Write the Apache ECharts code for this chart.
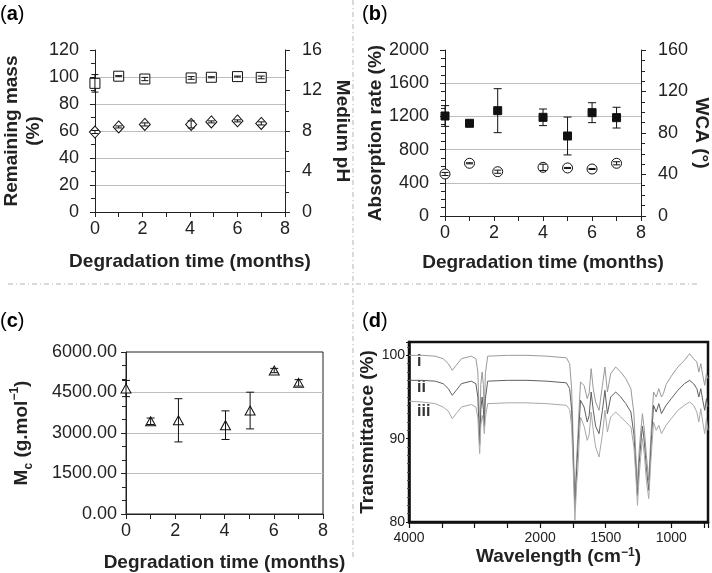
<!DOCTYPE html>
<html><head><meta charset="utf-8">
<script src="https://cdn.jsdelivr.net/npm/echarts@6/dist/echarts.min.js"></script>
<style>html,body{margin:0;padding:0;background:#fff}#c{width:712px;height:573px}</style>
</head><body><div id="c"></div>
<script>
const FONT = 'Liberation Sans, Arial, Helvetica, sans-serif';

// ---- Panel (a): remaining mass (%) and medium pH vs degradation time
const timeA = [0, 1, 2.1, 4.05, 4.9, 6, 7];
const massA = [95.3, 100.6, 98.5, 99.3, 99.8, 100.3, 99.7];
const massErrA = [6.5, 0.4, 1.2, 1.0, 0.4, 0.4, 1.0];
const phA = [7.9, 8.4, 8.65, 8.65, 8.9, 9.0, 8.75];
const phErrA = [0.15, 0.1, 0.15, 0.35, 0.1, 0.1, 0.15];

// ---- Panel (b): absorption rate (%) and WCA (°)
const timeB = [0, 1, 2.15, 4, 5, 6, 7];
const absB = [1205, 1117, 1269, 1189, 964, 1245, 1185];
const absErrB = [125, 30, 265, 100, 228, 120, 125];
const wcaB = [40.5, 50.8, 42.7, 46.9, 46.3, 45.3, 50.8];
const wcaErrB = [1.5, 0.5, 1.5, 3, 0.5, 0.5, 1.5];

// ---- Panel (c): Mc (g/mol)
const timeC = [0, 1, 2.13, 4.04, 5.04, 6.02, 7.01];
const mcC = [4647, 3434, 3470, 3290, 3832, 5313, 4857];
const mcErrC = [300, 120, 800, 530, 680, 80, 120];

// ---- Panel (d): FTIR spectra [wavenumber, transmittance]
const specI = [[4000,100.0],[3800,100.0],[3600,99.9],[3480,99.6],[3400,99.0],[3340,98.2],[3280,98.8],[3200,99.6],[3050,99.9],[2980,99.6],[2950,98.0],[2935,94.5],[2922,90.5],[2905,96.5],[2885,98.0],[2866,96.5],[2852,93.0],[2835,97.8],[2800,99.9],[2500,100.0],[2200,100.0],[1950,99.9],[1800,99.7],[1775,99.0],[1760,96.0],[1748,90.0],[1735,82.8],[1722,87.5],[1712,90.5],[1700,94.5],[1692,96.8],[1665,96.4],[1641,94.8],[1626,95.5],[1611,98.4],[1595,96.0],[1577,94.4],[1551,93.4],[1525,96.4],[1506,98.6],[1487,95.6],[1462,97.8],[1424,98.6],[1385,98.0],[1347,97.2],[1308,96.0],[1285,93.0],[1270,88.0],[1258,84.5],[1245,88.5],[1232,91.0],[1220,93.0],[1205,91.0],[1190,88.0],[1172,85.0],[1155,90.5],[1135,95.6],[1115,95.0],[1095,96.0],[1075,95.0],[1060,95.4],[1040,96.5],[1000,97.5],[950,98.6],[900,99.4],[860,100.2],[830,99.6],[805,99.2],[790,98.0],[775,99.0],[760,97.6],[745,96.4],[732,97.8],[720,97.2]];
const specII = [[4000,97.0],[3800,97.0],[3600,96.9],[3480,96.6],[3400,96.0],[3340,95.2],[3280,95.8],[3200,96.6],[3050,96.9],[2980,96.6],[2950,95.0],[2935,92.0],[2922,89.3],[2905,93.5],[2885,95.0],[2866,93.5],[2852,91.5],[2835,94.8],[2800,96.9],[2500,97.0],[2200,97.0],[1950,96.9],[1800,96.7],[1775,96.0],[1760,93.5],[1748,88.0],[1735,81.5],[1722,86.0],[1712,89.0],[1700,92.5],[1692,94.6],[1665,93.8],[1641,92.0],[1626,92.8],[1611,95.6],[1595,93.4],[1577,91.5],[1551,90.6],[1525,93.4],[1506,95.8],[1487,93.0],[1462,95.0],[1424,95.6],[1385,95.0],[1347,94.2],[1308,93.2],[1285,90.5],[1270,86.5],[1258,83.2],[1245,87.0],[1232,89.5],[1220,91.5],[1205,89.5],[1190,86.5],[1172,83.8],[1155,89.0],[1135,94.0],[1115,93.2],[1095,94.2],[1075,93.0],[1060,93.2],[1040,94.0],[1000,94.8],[950,95.8],[900,96.6],[860,97.0],[830,96.6],[805,96.0],[790,95.0],[775,96.0],[760,94.6],[745,93.4],[732,94.8],[720,93.8]];
const specIII = [[4000,94.5],[3800,94.4],[3600,94.2],[3480,93.8],[3400,93.3],[3340,92.4],[3280,93.0],[3200,93.8],[3050,94.1],[2980,93.8],[2950,92.5],[2935,90.0],[2922,88.2],[2905,91.5],[2885,92.8],[2866,92.0],[2852,90.6],[2835,92.5],[2800,94.2],[2500,94.3],[2200,94.3],[1950,94.2],[1800,94.0],[1775,93.5],[1760,91.5],[1748,86.5],[1735,80.2],[1722,84.5],[1712,86.5],[1700,90.5],[1692,92.6],[1665,91.5],[1641,89.8],[1626,90.5],[1611,93.2],[1595,91.0],[1577,89.0],[1551,87.8],[1525,90.5],[1506,93.4],[1487,90.8],[1462,92.6],[1424,93.2],[1385,92.6],[1347,92.0],[1308,91.4],[1285,89.0],[1270,85.5],[1258,82.0],[1245,85.5],[1232,88.0],[1220,90.0],[1205,88.0],[1190,85.0],[1172,82.8],[1155,87.5],[1135,92.0],[1115,91.0],[1095,91.6],[1075,90.6],[1060,90.8],[1040,91.6],[1000,92.4],[950,93.4],[900,94.0],[860,94.4],[830,94.0],[805,93.2],[790,92.0],[775,93.6],[760,92.0],[745,90.6],[732,92.4],[720,91.0]];
const ftirTickLabels = [4000, 2000, 1500, 1000];
const ftirMinW = 720;
const specNames = ['i', 'ii', 'iii'];

// split wavenumber scale: 4000-2000 at one scale, below 2000 doubled (as in FTIR instruments)
function toPos(w) { return w >= 2000 ? 4000 - w : 2000 + 2 * (2000 - w); }
function toW(p) { return p <= 2000 ? 4000 - p : 2000 - (p - 2000) / 2; }

const labelStyle = {fontFamily: FONT, fontSize: 18, color: '#222'};
const nameStyle = {fontFamily: FONT, fontSize: 19, fontWeight: 'bold', color: '#222'};
const axisLine = {show: true, onZero: false, lineStyle: {color: '#222', width: 1}};

function xTime(grid, gap) {
  return {type: 'value', gridIndex: grid, min: 0, max: 8, interval: 1,
    axisLine: axisLine,
    axisTick: {show: true, length: 5, lineStyle: {color: '#222'}},
    axisLabel: Object.assign({}, labelStyle, {margin: 8, formatter: v => (v % 2 === 0 ? String(v) : '')}),
    splitLine: {show: false},
    name: 'Degradation time (months)', nameLocation: 'middle', nameGap: gap, nameTextStyle: nameStyle};
}
function yAx(grid, pos, min, max, interval, minorSplit, name, gap, rot, opts) {
  const o = {type: 'value', gridIndex: grid, position: pos, min: min, max: max, interval: interval,
    axisLine: axisLine,
    axisTick: {show: true, length: 5, lineStyle: {color: '#222'}},
    minorTick: {show: true, splitNumber: minorSplit, length: 4, lineStyle: {color: '#222'}},
    axisLabel: Object.assign({}, labelStyle, {margin: pos === 'left' ? 16 : 17, formatter: v => String(v)}),
    splitLine: {show: pos === 'left', showMinLine: false, showMaxLine: false, lineStyle: {color: '#bdbdbd', width: 1}},
    name: name, nameLocation: 'middle', nameGap: gap, nameRotate: rot, nameTextStyle: nameStyle};
  return Object.assign(o, opts || {});
}
function errSeries(xi, yi, xs, ys, es, cap) {
  return {type: 'custom', xAxisIndex: xi, yAxisIndex: yi, z: 5, silent: true,
    encode: {x: 0, y: [1, 2]},
    data: xs.map((x, i) => [x, ys[i] - es[i], ys[i] + es[i]]),
    renderItem: function (params, api) {
      const lo = api.coord([api.value(0), api.value(1)]);
      const hi = api.coord([api.value(0), api.value(2)]);
      const h = cap / 2, st = {stroke: '#111', lineWidth: 1};
      return {type: 'group', children: [
        {type: 'line', shape: {x1: lo[0], y1: lo[1], x2: hi[0], y2: hi[1]}, style: st},
        {type: 'line', shape: {x1: lo[0] - h, y1: lo[1], x2: lo[0] + h, y2: lo[1]}, style: st},
        {type: 'line', shape: {x1: hi[0] - h, y1: hi[1], x2: hi[0] + h, y2: hi[1]}, style: st}
      ]};
    }};
}
function scat(xi, yi, xs, ys, symbol, size, fill) {
  return {type: 'scatter', xAxisIndex: xi, yAxisIndex: yi, z: 3, symbol: symbol, symbolSize: size,
    itemStyle: {color: fill, borderColor: '#111', borderWidth: 1, opacity: 1},
    data: xs.map((x, i) => [x, ys[i]])};
}

const chart = echarts.init(document.getElementById('c'), null, {renderer: 'canvas'});
const specColors = ['#9a9a9a', '#606060', '#a8a8a8'];
const specs = [specI, specII, specIII];

const option = {
  animation: false,
  backgroundColor: '#fff',
  textStyle: {fontFamily: FONT},
  grid: [
    {left: 88, top: 50, width: 197, height: 162},
    {left: 445, top: 50, width: 197, height: 166},
    {left: 126, top: 352, width: 197, height: 166, show: true, borderColor: '#222', borderWidth: 1},
    {left: 409, top: 342, width: 299, height: 180, show: true, borderColor: '#111', borderWidth: 2.5}
  ],
  xAxis: [
    xTime(0, 40), xTime(1, 37), xTime(2, 39),
    {type: 'value', gridIndex: 3, min: 0, max: toPos(ftirMinW), interval: 500,
      axisLine: {show: true, onZero: false, lineStyle: {color: '#111', width: 2.5}},
      axisTick: {show: true, length: 6, lineStyle: {color: '#111', width: 1.2}},
      axisLabel: {fontFamily: FONT, fontSize: 14, color: '#222', margin: 9,
        formatter: v => { const w = Math.round(toW(v)); return ftirTickLabels.indexOf(w) >= 0 ? String(w) : ''; }},
      splitLine: {show: false},
      name: '{b|Wavelength (cm}{p|\u22121}{b|)}', nameLocation: 'middle', nameGap: 25,
      nameTextStyle: {rich: {b: {fontFamily: FONT, fontSize: 19, fontWeight: 'bold', color: '#222'},
        p: {fontFamily: FONT, fontSize: 12, fontWeight: 'bold', color: '#222', verticalAlign: 'top'}}}}
  ],
  yAxis: [
    yAx(0, 'left', 0, 120, 20, 2, 'Remaining mass\n(%)', 48, 90, {nameTextStyle: Object.assign({}, nameStyle, {lineHeight: 22})}),
    yAx(0, 'right', 0, 16, 4, 2, 'Medium pH', 48, -90),
    yAx(1, 'left', 0, 2000, 400, 4, 'Absorption rate (%)', 56, 90),
    yAx(1, 'right', 0, 160, 40, 4, 'WCA (\u00b0)', 46, -90),
    yAx(2, 'left', 0, 6000, 1500, 3, '{b|M}{s|c}{b| (g.mol}{p|\u22121}{b|)}', 91, 90, {
      axisLabel: Object.assign({}, labelStyle, {margin: 9, formatter: v => v.toFixed(2)}),
      splitLine: {show: true, showMinLine: false, showMaxLine: false, lineStyle: {color: '#bdbdbd', width: 1}},
      nameTextStyle: {rich: {
        b: {fontFamily: FONT, fontSize: 19, fontWeight: 'bold', color: '#222', lineHeight: 26, verticalAlign: 'middle'},
        s: {fontFamily: FONT, fontSize: 12, fontWeight: 'bold', color: '#222', lineHeight: 12, verticalAlign: 'bottom'},
        p: {fontFamily: FONT, fontSize: 12, fontWeight: 'bold', color: '#222', lineHeight: 12, verticalAlign: 'top'}}}
    }),
    {type: 'value', gridIndex: 3, min: 80, max: 101.6, interval: 10,
      axisLine: {show: true, onZero: false, lineStyle: {color: '#111', width: 2.5}},
      axisTick: {show: true, length: 3, lineStyle: {color: '#111'}},
      minorTick: {show: true, splitNumber: 10, length: 2, lineStyle: {color: '#555'}},
      axisLabel: {fontFamily: FONT, fontSize: 14, color: '#222', margin: 4,
        formatter: v => (Math.abs(v % 10) < 1e-9 ? String(v) : '')},
      splitLine: {show: false},
      name: 'Transmittance (%)', nameLocation: 'middle', nameGap: 30, nameRotate: 90, nameTextStyle: nameStyle}
  ],
  series: [
    scat(0, 0, timeA, massA, 'rect', 10, '#fff'),
    errSeries(0, 0, timeA, massA, massErrA, 7),
    scat(0, 1, timeA, phA, 'diamond', [11, 12], '#fff'),
    errSeries(0, 1, timeA, phA, phErrA, 7),
    scat(1, 2, timeB, absB, 'rect', 8, '#111'),
    errSeries(1, 2, timeB, absB, absErrB, 8),
    scat(1, 3, timeB, wcaB, 'circle', 10, '#fff'),
    errSeries(1, 3, timeB, wcaB, wcaErrB, 7),
    scat(2, 4, timeC, mcC, 'triangle', [10, 9], '#fff'),
    errSeries(2, 4, timeC, mcC, mcErrC, 8)
  ].concat(specs.map((s, k) => ({
    type: 'line', xAxisIndex: 3, yAxisIndex: 5, showSymbol: false, symbol: 'none', z: 2 + k,
    name: specNames[k],
    lineStyle: {color: specColors[k], width: 1}, silent: true,
    data: s.map(p => [toPos(p[0]), p[1]])
  }))),
  graphic: [
    {type: 'line', shape: {x1: 353, y1: 0, x2: 353, y2: 558}, style: {stroke: '#b5b5b5', lineWidth: 1, lineDash: [5, 3, 1, 3]}},
    {type: 'line', shape: {x1: 8, y1: 284, x2: 700, y2: 284}, style: {stroke: '#b5b5b5', lineWidth: 1, lineDash: [5, 3, 1, 3]}},
    ...[['a', 0, 4], ['b', 362, 4], ['c', 0, 311], ['d', 362, 311]].map(t => ({
      type: 'text', left: t[1], top: t[2],
      style: {text: '{n|(}{b|' + t[0] + '}{n|)}', rich: {
        n: {fontFamily: FONT, fontSize: 20, color: '#222'},
        b: {fontFamily: FONT, fontSize: 20, fontWeight: 'bold', color: '#222'}}}
    })),
    ...specNames.map((nm, k) => ({
      type: 'text', left: 417, top: [354, 380, 404][k],
      style: {text: nm, fontFamily: FONT, fontSize: 16, fontWeight: 'bold', fill: '#333'}
    }))
  ]
};
chart.setOption(option);
</script>
</body></html>
